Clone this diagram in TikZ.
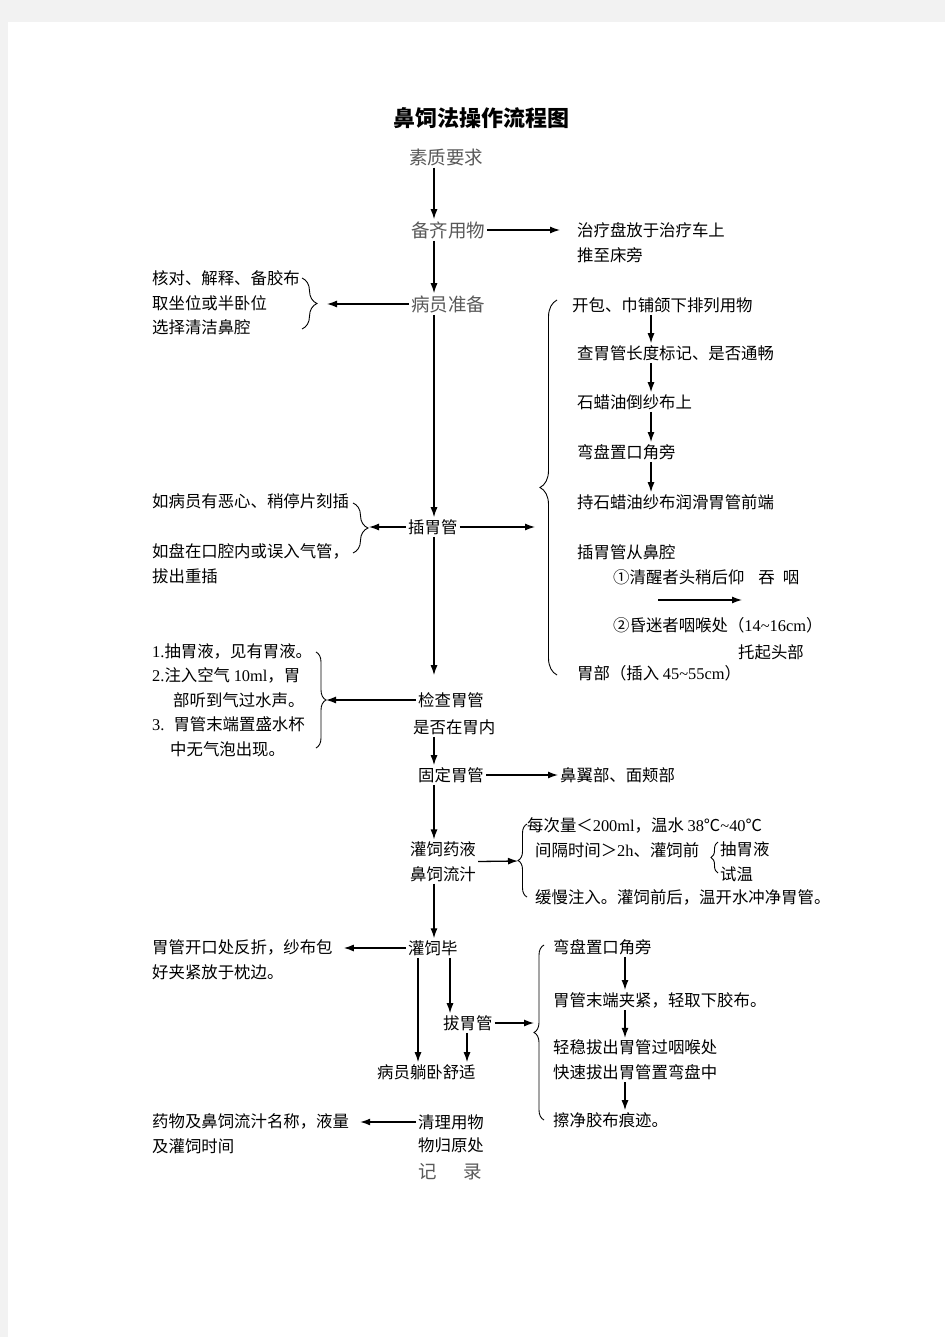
\documentclass[tikz,border=0pt]{standalone}
\usepackage{fontspec}
\setmainfont{Liberation Serif}
\newfontfamily\cjk{Noto Sans CJK SC}
\usetikzlibrary{arrows.meta,decorations.pathreplacing}
\newcommand\rmnum[1]{{\rmfamily #1}}
\tikzset{
  txt/.style={font=\cjk\fontsize{16.4}{24.6}\selectfont,inner sep=2pt,align=left,anchor=west},
  head/.style={font=\cjk\fontsize{18.5}{22}\selectfont,text=black!65,inner sep=2pt},
  arr/.style={line width=1.3pt,-{Latex[length=10pt,width=7pt]}},
  brc/.style={line width=0.9pt,decorate,decoration={brace,amplitude=#1}},
  brc/.default=10
}

\begin{document}
\begin{tikzpicture}[x=1pt,y=-1pt]
  \fill[black!5] (0,0) rectangle (945,1337);
  \fill[white] (8,22) rectangle (945,1337);
  \useasboundingbox (0,0) rectangle (945,1337);
  \node[font=\cjk\bfseries\fontsize{22}{26}\selectfont] (title) at (481,118) {鼻饲法操作流程图};
  \coordinate (mx) at (434,0);
  \coordinate (rx) at (651,0);
  \coordinate (px) at (625,0);
  \coordinate (lx) at (418,0);
  \coordinate (bx) at (450,0);
  \coordinate (cx) at (467,0);

  % main column
  \node[head] (sz) at (446,157) {素质要求};
  \node[head] (bq) at (448,230) {备齐用物};
  \node[head] (br) at (448,304) {病员准备};
  \node[txt] (cg) at (406,527) {插胃管};
  \node[txt] (jc) at (416,700) {检查胃管};
  \node[txt] (jc2) at (411,727) {是否在胃内};
  \node[txt] (gd) at (416,775) {固定胃管};
  \node[txt] (gs) at (408,861.5) {灌饲药液\\鼻饲流汁};
  \node[txt] (gb) at (406,948) {灌饲毕};
  \node[txt] (bg) at (441,1023) {拔胃管};
  \node[txt] (tw) at (375,1072) {病员躺卧舒适};
  \node[txt] (ql) at (416,1122) {清理用物};
  \node[txt] (ql2) at (416,1145) {物归原处};
  \node[head,anchor=west] (jl) at (416,1172) {记\hspace{27pt}录};

  % left side
  \node[txt] (chk) at (150,303) {核对、解释、备胶布\\取坐位或半卧位\\选择清洁鼻腔};
  \node[txt] (cgL1) at (150,501) {如病员有恶心、稍停片刻插};
  \node[txt] (cgL2) at (150,563.5) {如盘在口腔内或误入气管，\\拔出重插};
  \node[txt] (jcL) at (150,700) {\rmnum{1.}抽胃液，见有胃液。\\\rmnum{2.}注入空气 \rmnum{10ml}，胃\\\hspace*{21pt}部听到气过水声。\\\rmnum{3.}\hspace*{9pt}胃管末端置盛水杯\\\hspace*{18pt}中无气泡出现。};
  \node[txt] (gbL) at (150,960) {胃管开口处反折，纱布包\\好夹紧放于枕边。};
  \node[txt] (qlL) at (150,1133.5) {药物及鼻饲流汁名称，液量\\及灌饲时间};

  % right side
  \node[txt] (tray) at (575,242.5) {治疗盘放于治疗车上\\推至床旁};
  \node[txt] (s1) at (570,305) {开包、巾铺颌下排列用物};
  \node[txt] (s2) at (575,353) {查胃管长度标记、是否通畅};
  \node[txt] (s3) at (575,402) {石蜡油倒纱布上};
  \node[txt] (s4) at (575,452) {弯盘置口角旁};
  \node[txt] (s5) at (575,502) {持石蜡油纱布润滑胃管前端};
  \node[txt] (s6) at (575,552) {插胃管从鼻腔};
  \node[txt] (s7) at (611,577) {①清醒者头稍后仰\hspace{14pt}吞\hspace{8pt}咽};
  \node[txt] (s8) at (611,625) {②昏迷者咽喉处（\rmnum{14\textasciitilde16cm}）};
  \node[txt] (s9) at (736,652) {托起头部};
  \node[txt] (s10) at (575,673) {胃部（插入 \rmnum{45\textasciitilde55cm}）};
  \node[txt] (gdR) at (558,775) {鼻翼部、面颊部};
  \node[txt] (g1) at (525,825) {每次量＜\rmnum{200ml}，温水 \rmnum{38}℃\rmnum{\textasciitilde40}℃};
  \node[txt] (g2) at (533,850) {间隔时间＞\rmnum{2h}、灌饲前};
  \node[txt] (g3) at (718,861.5) {抽胃液\\试温};
  \node[txt] (g4) at (533,897) {缓慢注入。灌饲前后，温开水冲净胃管。};
  \node[txt] (p1) at (551,947) {弯盘置口角旁};
  \node[txt] (p2) at (551,1000) {胃管末端夹紧，轻取下胶布。};
  \node[txt] (p3) at (551,1060) {轻稳拔出胃管过咽喉处\\快速拔出胃管置弯盘中};
  \node[txt] (p4) at (551,1120) {擦净胶布痕迹。};

  % brace tips
  \coordinate (b1) at (327,304);
  \coordinate (b2) at (369,527);
  \coordinate (b3) at (535,527);
  \coordinate (b4) at (326,700);
  \coordinate (b5) at (518,861);
  \coordinate (b6) at (534,1023);
  \coordinate (sw1) at (658,600);
  \coordinate (sw2) at (742,600);

  \draw[brc=15] (302,278) -- (302,329);
  \draw[brc=15] (353,503) -- (353,553);
  \draw[brc=17] (557,675) -- (557,300);
  \draw[brc=10] (316,652) -- (316,748);
  \draw[brc=9] (527,897) -- (527,824);
  \draw[brc=7] (718,873) -- (718,842);
  \draw[brc=10] (544,1120) -- (544,945);

  \draw[arr] (sz.south -| mx) -- (bq.north -| mx);
  \draw[arr,shorten >=15pt] (bq.east) -- (bq.east -| tray.west);
  \draw[arr] (bq.south -| mx) -- (br.north -| mx);
  \draw[arr] (br.west) -- (b1);
  \draw[arr] (br.south -| mx) -- (cg.north -| mx);
  \draw[arr] (cg.west) -- (b2);
  \draw[arr] (cg.east) -- (b3);
  \draw[arr,shorten >=15pt] (cg.south -| mx) -- (jc.north -| mx);
  \draw[arr] (jc.west) -- (b4);
  \draw[arr] (jc2.south -| mx) -- (gd.north -| mx);
  \draw[arr] (gd.east) -- (gdR.west);
  \draw[arr] (gd.south -| mx) -- (gs.north -| mx);
  \draw[arr] (gs.east) -- (b5);
  \draw[arr] (gs.south -| mx) -- (gb.north -| mx);
  \draw[arr,shorten >=9pt] (gb.west) -- (gb.west -| gbL.east);
  \draw[arr] (gb.south -| lx) -- (tw.north -| lx);
  \draw[arr] (gb.south -| bx) -- (bg.north -| bx);
  \draw[arr] (bg.south -| cx) -- (tw.north -| cx);
  \draw[arr] (bg.east) -- (b6);
  \draw[arr,shorten >=9pt] (ql.west) -- (ql.west -| qlL.east);

  \draw[arr] (s1.south -| rx) -- (s2.north -| rx);
  \draw[arr] (s2.south -| rx) -- (s3.north -| rx);
  \draw[arr] (s3.south -| rx) -- (s4.north -| rx);
  \draw[arr] (s4.south -| rx) -- (s5.north -| rx);
  \draw[arr] (sw1) -- (sw2);
  \draw[arr] (p1.south -| px) -- (p2.north -| px);
  \draw[arr] (p2.south -| px) -- (p3.north -| px);
  \draw[arr] (p3.south -| px) -- (p4.north -| px);
\end{tikzpicture}
\end{document}
